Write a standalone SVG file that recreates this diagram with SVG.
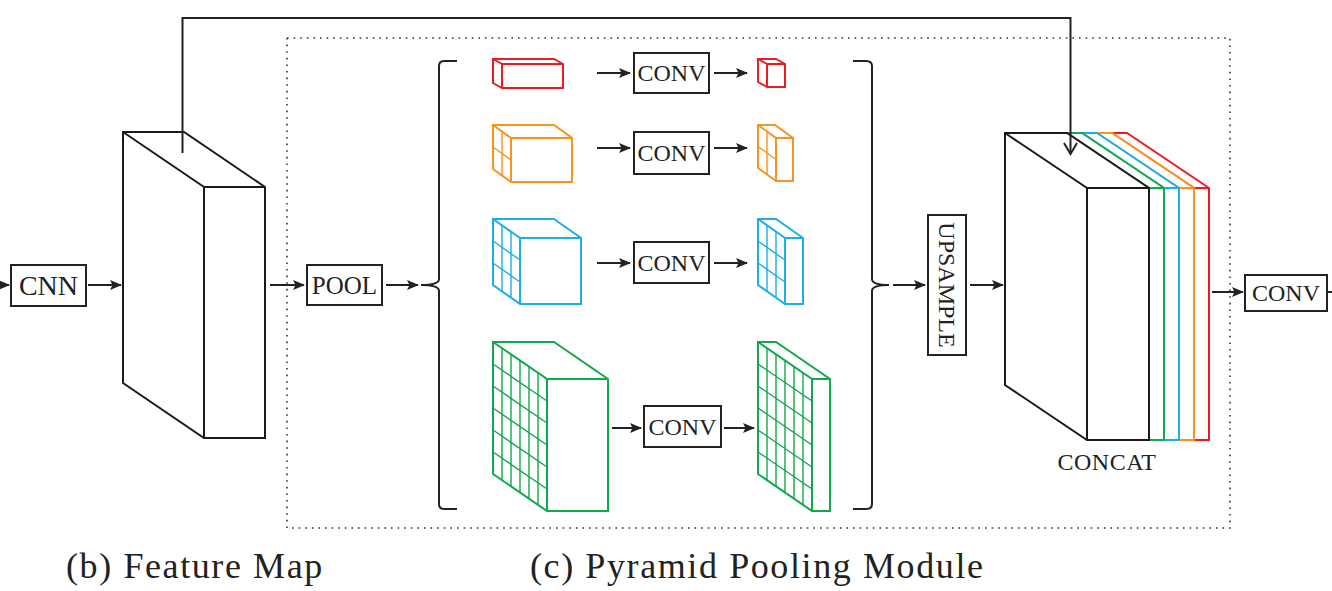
<svg xmlns="http://www.w3.org/2000/svg" width="1332" height="591" viewBox="0 0 1332 591">
<defs>
<marker id="ah" viewBox="0 0 12 10" refX="11" refY="5" markerWidth="12" markerHeight="10" markerUnits="userSpaceOnUse" orient="auto">
<path d="M0,0 L12,5 L0,10 L2.5,5 Z" fill="#222"/>
</marker>
</defs>
<style>
.box{fill:#fff;stroke:#222;stroke-width:2}
.lbl{font-family:"Liberation Serif","Times New Roman",serif;fill:#222;text-anchor:middle}
.ln{fill:none;stroke:#222;stroke-width:2}
.arr{fill:none;stroke:#222;stroke-width:2;marker-end:url(#ah)}
.cube{fill:#fff;stroke-width:2;stroke-linejoin:miter}
.edge{fill:none;stroke-width:2}
.grid{fill:none;stroke-width:1.4}
.red{stroke:#ec1c24}
.org{stroke:#f7931e}
.blu{stroke:#1eaee6}
.grn{stroke:#13a84b}
.blk{stroke:#1a1a1a}
.title{font-family:"Liberation Serif","Times New Roman",serif;font-size:36px;letter-spacing:1.6px;fill:#222}
</style>
<rect width="1332" height="591" fill="#fff"/>

<!-- dotted module frame -->
<rect id="ppm-frame" x="287" y="38" width="943" height="490" fill="none" stroke="#333" stroke-width="1.6" stroke-dasharray="1.6 5"/>

<g id="connectors">
<line class="arr" x1="-5" y1="285" x2="9" y2="285"/>
<line class="arr" x1="88" y1="285" x2="121" y2="285"/>
<line class="arr" x1="270" y1="285" x2="304" y2="285"/>
<line class="arr" x1="386" y1="285" x2="418" y2="285"/>
<line class="arr" x1="597" y1="73" x2="630" y2="73"/>
<line class="arr" x1="714" y1="73" x2="747" y2="73"/>
<line class="arr" x1="597" y1="148" x2="630" y2="148"/>
<line class="arr" x1="714" y1="148" x2="747" y2="148"/>
<line class="arr" x1="597" y1="263" x2="630" y2="263"/>
<line class="arr" x1="714" y1="263" x2="747" y2="263"/>
<line class="arr" x1="612" y1="428" x2="641" y2="428"/>
<line class="arr" x1="724" y1="428" x2="754" y2="428"/>
<line class="arr" x1="893" y1="285" x2="925" y2="285"/>
<line class="arr" x1="970" y1="285" x2="1003" y2="285"/>
<line class="arr" x1="1212" y1="292" x2="1243" y2="292"/>
<line class="ln" x1="1328" y1="292" x2="1334" y2="292"/>
<!-- braces -->
<path class="ln" d="M457,61 L444,61 Q439,61 439,66 L439,279 Q439,285 421,285 Q439,285 439,291 L439,504 Q439,509 444,509 L457,509"/>
<path class="ln" d="M853,61 L866,61 Q872,61 872,66 L872,279 Q872,285 889,285 Q872,285 872,291 L872,504 Q872,509 866,509 L853,509"/>
</g>

<g id="cnn">
<rect class="box" x="11" y="265" width="75" height="41"/>
<text class="lbl" x="48.5" y="295" font-size="28">CNN</text>
</g>

<g id="feature-map">
<path class="cube blk" d="M123,132 H184 L265,187 V438 H204 L123,383 Z"/>
<path class="edge blk" d="M123,132 L204,187 V438 M204,187 H265"/>
</g>

<g id="pool">
<rect class="box" x="307" y="265" width="75" height="40"/>
<text class="lbl" x="344.5" y="294" font-size="25">POOL</text>
</g>

<!-- row 1: red -->
<g id="red-in">
<path class="cube red" d="M493,59 H554 L563,64 V88 H502 L493,83 Z"/>
<path class="edge red" d="M493,59 L502,64 V88 M502,64 H563"/>
</g>
<g id="conv1">
<rect class="box" x="634" y="53" width="75" height="40"/>
<text class="lbl" x="671.5" y="81" font-size="24">CONV</text>
</g>
<g id="red-out">
<path class="cube red" d="M758,59 H776 L785,64 V87 H767 L758,82 Z"/>
<path class="edge red" d="M758,59 L767,64 V87 M767,64 H785"/>
</g>

<!-- row 2: orange -->
<g id="orange-in">
<path class="cube org" d="M493,125 H554 L572,138 V182 H511 L493,169 Z"/>
<path class="edge org" d="M493,125 L511,138 V182 M511,138 H572"/>
<path class="grid org" d="M502,131.5 V175.5 M493,147 L511,160"/>
</g>
<g id="conv2">
<rect class="box" x="634" y="132" width="75" height="42"/>
<text class="lbl" x="671.5" y="161" font-size="24">CONV</text>
</g>
<g id="orange-out">
<path class="cube org" d="M758,125 H775 L793,138 V181 H776 L758,168 Z"/>
<path class="edge org" d="M758,125 L776,138 V181 M776,138 H793"/>
<path class="grid org" d="M767,131.5 V174.5 M758,146.5 L776,159.5"/>
</g>

<!-- row 3: blue -->
<g id="blue-in">
<path class="cube blu" d="M493,219 H554 L581,238 V304 H520 L493,285 Z"/>
<path class="edge blu" d="M493,219 L520,238 V304 M520,238 H581"/>
<path class="grid blu" d="M502,225.3 V291.3 M511,231.7 V297.7 M493,241 L520,260 M493,263 L520,282"/>
</g>
<g id="conv3">
<rect class="box" x="634" y="242" width="75" height="41"/>
<text class="lbl" x="671.5" y="271" font-size="24">CONV</text>
</g>
<g id="blue-out">
<path class="cube blu" d="M758,219 H776 L803,238 V304 H785 L758,285 Z"/>
<path class="edge blu" d="M758,219 L785,238 V304 M785,238 H803"/>
<path class="grid blu" d="M767,225.3 V291.3 M776,231.7 V297.7 M758,241 L785,260 M758,263 L785,282"/>
</g>

<!-- row 4: green -->
<g id="green-in">
<path class="cube grn" d="M493,342 H554 L608,379 V511 H547 L493,474 Z"/>
<path class="edge grn" d="M493,342 L547,379 V511 M547,379 H608"/>
<path class="grid grn" d="M502,348.2 V480.2 M511,354.3 V486.3 M520,360.5 V492.5 M529,366.7 V498.7 M538,372.8 V504.8 M493,364 L547,401 M493,386 L547,423 M493,408 L547,445 M493,430 L547,467 M493,452 L547,489"/>
</g>
<g id="conv4">
<rect class="box" x="644" y="406" width="77" height="41"/>
<text class="lbl" x="682.5" y="435" font-size="24">CONV</text>
</g>
<g id="green-out">
<path class="cube grn" d="M758,342 H776 L830,379 V511 H812 L758,474 Z"/>
<path class="edge grn" d="M758,342 L812,379 V511 M812,379 H830"/>
<path class="grid grn" d="M767,348.2 V480.2 M776,354.3 V486.3 M785,360.5 V492.5 M794,366.7 V498.7 M803,372.8 V504.8 M758,364 L812,401 M758,386 L812,423 M758,408 L812,445 M758,430 L812,467 M758,452 L812,489"/>
</g>

<g id="upsample">
<rect class="box" x="928" y="215" width="38" height="140"/>
<text class="lbl" x="947" y="293" font-size="24" transform="rotate(90 947 285)">UPSAMPLE</text>
</g>

<g id="concat">
<path class="cube red" d="M1112,133 H1127 L1209,188 V440 H1194 V188 Z"/>
<path class="edge red" d="M1194,188 H1209"/>
<path class="cube org" d="M1097,133 H1112 L1194,188 V440 H1179 V188 Z"/>
<path class="edge org" d="M1179,188 H1194"/>
<path class="cube blu" d="M1082,133 H1097 L1179,188 V440 H1164 V188 Z"/>
<path class="edge blu" d="M1164,188 H1179"/>
<path class="cube grn" d="M1067,133 H1082 L1164,188 V440 H1149 V188 Z"/>
<path class="edge grn" d="M1149,188 H1164"/>
<path class="cube blk" d="M1005,133 H1067 L1149,188 V440 H1087 L1005,385 Z"/>
<path class="edge blk" d="M1005,133 L1087,188 V440 M1087,188 H1149"/>
<text class="lbl" x="1107" y="470" font-size="24" letter-spacing="0.5">CONCAT</text>
</g>

<g id="skip-connection">
<path class="ln" d="M182.5,153 V18 H1070.5 V154"/>
<path class="ln" d="M1064,143 L1070.5,154 L1077,143"/>
</g>

<g id="conv-out">
<rect class="box" x="1245" y="275" width="82" height="36"/>
<text class="lbl" x="1286" y="301" font-size="24">CONV</text>
</g>

<g id="captions">
<text class="title" x="66" y="578">(b) Feature Map</text>
<text class="title" x="530" y="578">(c) Pyramid Pooling Module</text>
</g>
</svg>
